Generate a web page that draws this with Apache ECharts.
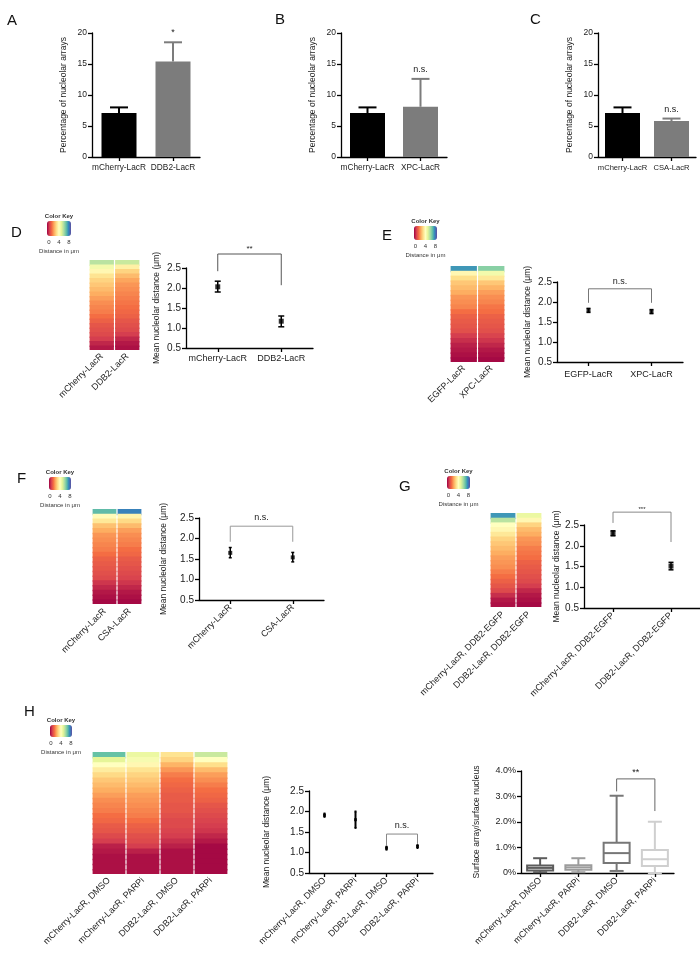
<!DOCTYPE html>
<html>
<head>
<meta charset="utf-8">
<script src="https://cdn.jsdelivr.net/npm/echarts@6/dist/echarts.min.js"></script>
<style>
  html, body { margin: 0; padding: 0; background: #fff; }
  #chart { width: 700px; height: 962px; }
</style>
</head>
<body>
<div id="chart"></div>
<script>
// ---- data ----
const barCatsA = ['mCherry-LacR', 'DDB2-LacR']
const barMeanA = [7.1, 15.4]
const barErrA = [8.0, 18.5]
const barSigA = ['', '*']

const barCatsB = ['mCherry-LacR', 'XPC-LacR']
const barMeanB = [7.1, 8.1]
const barErrB = [8.0, 12.6]
const barSigB = ['', 'n.s.']

const barCatsC = ['mCherry-LacR', 'CSA-LacR']
const barMeanC = [7.1, 5.8]
const barErrC = [8.0, 6.2]
const barSigC = ['', 'n.s.']

const barTicks = [0, 5, 10, 15, 20]
const distTicks = [0.5, 1.0, 1.5, 2.0, 2.5]
const keyTicks = [0, 4, 8]

// distance heatmaps: one list per column, top row first (µm)
const heatCatsD = ['mCherry-LacR', 'DDB2-LacR']
const heatD1 = [5.4, 4.4, 3.8, 3.3, 3.0, 2.8, 2.6, 2.4, 2.2, 2.0, 1.9, 1.8, 1.6, 1.4, 1.2, 1.1, 1.0, 0.8, 0.5, 0.3]
const heatD2 = [5.2, 3.6, 3.0, 2.6, 2.3, 2.1, 2.0, 1.9, 1.8, 1.7, 1.6, 1.5, 1.4, 1.2, 1.1, 1.0, 0.8, 0.5, 0.3, 0.2]

const heatCatsE = ['EGFP-LacR', 'XPC-LacR']
const heatE1 = [7.0, 3.8, 3.2, 2.8, 2.6, 2.4, 2.1, 2.0, 1.9, 1.6, 1.4, 1.3, 1.2, 1.1, 0.8, 0.6, 0.4, 0.3, 0.2, 0.1]
const heatE2 = [6.0, 4.4, 3.4, 2.8, 2.5, 2.2, 2.0, 1.9, 1.7, 1.6, 1.4, 1.3, 1.2, 1.1, 0.9, 0.7, 0.5, 0.3, 0.2, 0.1]

const heatCatsF = ['mCherry-LacR', 'CSA-LacR']
const heatF1 = [6.5, 3.9, 3.4, 2.7, 2.4, 2.1, 2.0, 1.9, 1.8, 1.6, 1.4, 1.3, 1.2, 1.1, 1.0, 0.7, 0.5, 0.3, 0.2, 0.1]
const heatF2 = [7.3, 3.7, 3.1, 2.6, 2.2, 2.0, 1.9, 1.8, 1.6, 1.5, 1.3, 1.2, 1.1, 1.0, 0.9, 0.7, 0.5, 0.3, 0.2, 0.1]

const heatCatsG = ['mCherry-LacR, DDB2-EGFP', 'DDB2-LacR, DDB2-EGFP']
const heatG1 = [7.0, 5.4, 4.0, 3.8, 3.4, 3.0, 2.8, 2.6, 2.4, 2.2, 2.1, 2.0, 1.8, 1.6, 1.4, 1.2, 1.0, 0.6, 0.3, 0.2]
const heatG2 = [4.6, 3.8, 3.0, 2.6, 2.4, 2.1, 2.0, 1.8, 1.7, 1.6, 1.4, 1.3, 1.2, 1.1, 1.0, 0.8, 0.5, 0.3, 0.2, 0.1]

const heatCatsH = ['mCherry-LacR, DMSO', 'mCherry-LacR, PARPi', 'DDB2-LacR, DMSO', 'DDB2-LacR, PARPi']
const heatH1 = [6.4, 4.8, 4.0, 3.5, 3.1, 2.8, 2.6, 2.4, 2.2, 2.0, 1.9, 1.8, 1.6, 1.5, 1.3, 1.2, 1.0, 0.8, 0.4, 0.3, 0.2, 0.2, 0.2, 0.2]
const heatH2 = [4.6, 4.3, 3.8, 3.3, 3.0, 2.8, 2.6, 2.4, 2.2, 2.1, 2.0, 1.9, 1.8, 1.6, 1.4, 1.3, 1.1, 1.0, 0.8, 0.4, 0.2, 0.2, 0.2, 0.2]
const heatH3 = [3.3, 3.0, 2.5, 2.1, 1.8, 1.6, 1.5, 1.4, 1.3, 1.3, 1.2, 1.2, 1.1, 1.0, 1.0, 0.9, 0.8, 0.6, 0.4, 0.2, 0.2, 0.2, 0.2, 0.2]
const heatH4 = [5.2, 4.0, 3.2, 2.6, 2.2, 2.0, 1.8, 1.6, 1.5, 1.4, 1.2, 1.1, 1.0, 0.9, 0.8, 0.7, 0.5, 0.3, 0.1, 0.1, 0.1, 0.1, 0.1, 0.1]

// mean nucleolar distance (mean, low, high)
const distMeanD = [2.03, 1.17]
const distLowD = [1.90, 1.03]
const distHighD = [2.17, 1.30]
const bracketD = [0, 1, 2.85, 2.42, 2.07]

const distMeanE = [1.79, 1.76]
const distLowE = [1.74, 1.71]
const distHighE = [1.84, 1.81]
const bracketE = [0, 1, 2.33, 1.98, 1.98]

const distMeanF = [1.65, 1.54]
const distLowF = [1.53, 1.43]
const distHighF = [1.78, 1.66]
const bracketF = [0, 1, 2.30, 1.92, 1.92]

const distMeanG = [2.30, 1.51]
const distLowG = [2.24, 1.42]
const distHighG = [2.36, 1.60]
const bracketG = [0, 1, 2.81, 2.55, 2.09]

const distMeanH = [1.91, 1.80, 1.11, 1.15]
const distLowH = [1.87, 1.60, 1.07, 1.11]
const distHighH = [1.95, 2.00, 1.14, 1.18]
const bracketH = [2, 3, 1.45, 1.16, 1.21]

// surface array / surface nucleus (%): min, Q1, median, Q3, max
const boxMin = [0.03, 0.03, 0.08, 0.0]
const boxQ1 = [0.10, 0.13, 0.39, 0.27]
const boxMed = [0.20, 0.22, 0.78, 0.54]
const boxQ3 = [0.29, 0.30, 1.19, 0.90]
const boxMax = [0.58, 0.58, 3.03, 2.01]
const boxTicks = [0, 1, 2, 3, 4]
const bracketBox = [2, 3, 3.69, 3.2, 2.43]

// ---- styles ----
const FONT = 'Liberation Sans, Arial, sans-serif'
const spectral = ['#9E0142', '#D53E4F', '#F46D43', '#FDAE61', '#FEE08B', '#FFFFBF', '#E6F598', '#ABDDA4', '#66C2A5', '#3288BD', '#5E4FA2']
const barColors = ['#000000', '#7c7c7c']
const boxColors = ['#5c5c5c', '#9c9c9c', '#777777', '#cfcfcf']

const grids = []
const xAxes = []
const yAxes = []
const series = []
const visualMaps = []
const titles = []

const addGrid = (g) => {
  grids.push({ left: g[0], top: g[1], width: g[2], height: g[3] })
  return grids.length - 1
}

const axisLine = { show: true, lineStyle: { color: '#000', width: 1.3 } }
const axisTick = { show: true, length: 4, lineStyle: { color: '#000', width: 1.3 } }

const valueAxis = (gi, ticks, name, nameGap, fmt, fontSize) => ({
  gridIndex: gi, type: 'value', min: ticks[0], max: ticks[ticks.length - 1],
  interval: ticks[1] - ticks[0],
  name, nameLocation: 'middle', nameGap,
  nameTextStyle: { fontSize: 8.5, color: '#222', fontFamily: FONT },
  axisLine, axisTick, splitLine: { show: false },
  axisLabel: { fontSize, color: '#222', fontFamily: FONT, margin: 5, formatter: fmt }
})

const catAxis = (gi, cats, rotate, margin, fontSize) => ({
  gridIndex: gi, type: 'category', data: cats,
  axisLine, axisTick: Object.assign({ alignWithLabel: true }, axisTick),
  axisLabel: { fontSize, color: '#222', fontFamily: FONT, margin, rotate, interval: 0 }
})

// error bar: [x, low, high]; cap drawn at high (and low when twoSided)
const errRender = (capW, colors, lw, twoSided) => (params, api) => {
  const pL = api.coord([api.value(0), api.value(1)])
  const pH = api.coord([api.value(0), api.value(2)])
  const style = { stroke: colors[params.dataIndex % colors.length], lineWidth: lw }
  const kids = [
    { type: 'line', shape: { x1: pL[0], y1: pL[1], x2: pH[0], y2: pH[1] }, style },
    { type: 'line', shape: { x1: pH[0] - capW / 2, y1: pH[1], x2: pH[0] + capW / 2, y2: pH[1] }, style }
  ]
  if (twoSided) kids.push({ type: 'line', shape: { x1: pL[0] - capW / 2, y1: pL[1], x2: pL[0] + capW / 2, y2: pL[1] }, style })
  return { type: 'group', children: kids }
}

// significance bracket: [x1, x2, top, leftBottom, rightBottom]
const bracketSeries = (xi, yi, b, label, color, gap, fontSize) => ({
  type: 'custom', xAxisIndex: xi, yAxisIndex: yi, clip: false, silent: true,
  data: [b],
  renderItem: (params, api) => {
    const t1 = api.coord([api.value(0), api.value(2)])
    const t2 = api.coord([api.value(1), api.value(2)])
    const b1 = api.coord([api.value(0), api.value(3)])
    const b2 = api.coord([api.value(1), api.value(4)])
    return {
      type: 'group', children: [
        { type: 'polyline', shape: { points: [b1, t1, t2, b2] }, style: { stroke: color, lineWidth: 1, fill: null } },
        { type: 'text', x: (t1[0] + t2[0]) / 2, y: t1[1] - gap,
          style: { text: label, fill: '#222', font: fontSize + 'px ' + FONT, textAlign: 'center', textVerticalAlign: 'bottom' } }
      ]
    }
  }
})

const barPanel = (box, cats, means, errs, sigs, yGap, labelFont) => {
  const gi = addGrid(box)
  xAxes.push(catAxis(gi, cats, 0, 7, labelFont))
  yAxes.push(valueAxis(gi, barTicks, 'Percentage of nucleolar arrays', yGap, null, 8.5))
  const xi = xAxes.length - 1
  const yi = yAxes.length - 1
  series.push({
    type: 'bar', xAxisIndex: xi, yAxisIndex: yi, barWidth: 35, silent: true,
    data: means.map((v, i) => ({ value: v, itemStyle: { color: barColors[i] } }))
  })
  series.push({
    type: 'custom', xAxisIndex: xi, yAxisIndex: yi, silent: true, z: 3,
    data: means.map((v, i) => [i, v, errs[i]]),
    renderItem: errRender(18, barColors, 2, false)
  })
  series.push({
    type: 'custom', xAxisIndex: xi, yAxisIndex: yi, silent: true, clip: false,
    data: errs.map((v, i) => [i, v]),
    renderItem: (params, api) => {
      const p = api.coord([api.value(0), api.value(1)])
      return { type: 'text', x: p[0], y: p[1] - 5,
        style: { text: sigs[params.dataIndex], fill: '#222', font: '9px ' + FONT, textAlign: 'center', textVerticalAlign: 'bottom' } }
    }
  })
}

// one heatmap cell; rows overlap a little so no seams show, columns keep a thin gap
const heatRender = (params, api) => {
  const c = api.coord([api.value(0), api.value(1)])
  const s = api.size([1, 1])
  const last = api.value(1) === params.dataInsideLength / params.context.cols - 1
  return {
    type: 'rect',
    shape: { x: c[0] - s[0] / 2 + 0.6, y: c[1] - s[1] / 2, width: s[0] - 1.2, height: s[1] + (last ? 0 : 1.5) },
    style: { fill: api.visual('color') }
  }
}

const smallText = (text, left, top, bold) => titles.push({
  text, left, top, textAlign: 'center', padding: 0,
  textStyle: { fontSize: 6, fontWeight: bold ? 'bold' : 'normal', color: '#333', fontFamily: FONT }
})

const heatPanel = (box, cats, cols, key, labelMargin) => {
  const gi = addGrid(box)
  const rows = cols[0].map((v, i) => String(i))
  xAxes.push({
    gridIndex: gi, type: 'category', data: cats,
    axisLine: { show: false }, axisTick: { show: false },
    axisLabel: { fontSize: 9, color: '#222', fontFamily: FONT, rotate: 45, margin: labelMargin, interval: 0 }
  })
  yAxes.push({ gridIndex: gi, type: 'category', data: rows, inverse: true, show: false })
  // draw rows top to bottom so each row's overlap is covered by the next one
  const data = []
  cols[0].forEach((v, r) => cols.forEach((col, c) => data.push([c, r, col[r]])))
  const nRows = rows.length
  series.push({
    type: 'custom', xAxisIndex: xAxes.length - 1, yAxisIndex: yAxes.length - 1, silent: true,
    data,
    renderItem: (params, api) => {
      const c = api.coord([api.value(0), api.value(1)])
      const s = api.size([1, 1])
      const last = api.value(1) === nRows - 1
      return {
        type: 'rect',
        shape: { x: c[0] - s[0] / 2 + 0.6, y: c[1] - s[1] / 2, width: s[0] - 1.2, height: s[1] + (last ? 0 : 1.5) },
        style: { fill: api.visual('color') }
      }
    }
  })
  // color key = this heatmap's visual map
  visualMaps.push({
    type: 'continuous', seriesIndex: series.length - 1, dimension: 2, min: 0, max: 8,
    orient: 'horizontal', left: key[0], top: key[1], itemWidth: key[3], itemHeight: key[2],
    calculable: false, hoverLink: false, padding: 0, text: null, showLabel: false,
    inRange: { color: spectral }
  })
  const cx = key[0] + key[2] / 2
  smallText('Color Key', cx, key[1] - 8, true)
  smallText(keyTicks.join('    '), cx, key[1] + key[3] + 3, false)
  smallText('Distance in μm', cx, key[1] + key[3] + 12, false)
}

const distPanel = (box, cats, means, lows, highs, br, brLabel, o) => {
  const gi = addGrid(box)
  xAxes.push(catAxis(gi, cats, o.rotate, o.margin, 9))
  yAxes.push(valueAxis(gi, distTicks, 'Mean nucleolar distance (μm)', o.yGap, (v) => v.toFixed(1), 10))
  const xi = xAxes.length - 1
  const yi = yAxes.length - 1
  series.push({
    type: 'custom', xAxisIndex: xi, yAxisIndex: yi, silent: true,
    data: means.map((v, i) => [i, lows[i], highs[i]]),
    renderItem: errRender(o.cap, ['#000'], o.lw, true)
  })
  series.push({
    type: 'scatter', xAxisIndex: xi, yAxisIndex: yi, silent: true, symbol: 'rect',
    symbolSize: o.sym, itemStyle: { color: '#000' },
    data: means.map((v, i) => [i, v])
  })
  series.push(bracketSeries(xi, yi, br, brLabel, o.brColor, o.brGap, o.brFont))
}

// ---- panels A-C ----
barPanel([92, 33, 108, 124], barCatsA, barMeanA, barErrA, barSigA, 24, 8.3)
barPanel([341, 33, 106, 124], barCatsB, barMeanB, barErrB, barSigB, 24, 8.3)
barPanel([598, 33, 98, 124], barCatsC, barMeanC, barErrC, barSigC, 24, 7.6)

// ---- D-H heatmaps ----
heatPanel([89, 260, 51, 90], heatCatsD, [heatD1, heatD2], [47, 221, 24, 15], 5)
heatPanel([450, 266, 55, 96], heatCatsE, [heatE1, heatE2], [414, 226, 23, 14], 5)
heatPanel([92, 509, 50, 95], heatCatsF, [heatF1, heatF2], [49, 477, 22, 13], 6)
heatPanel([490, 513, 52, 94], heatCatsG, [heatG1, heatG2], [447, 476, 23, 13], 6)
heatPanel([92, 752, 136, 122], heatCatsH, [heatH1, heatH2, heatH3, heatH4], [50, 725, 22, 12], 5)

// ---- D-H distance plots ----
distPanel([186, 268, 127, 80], heatCatsD, distMeanD, distLowD, distHighD, bracketD, '**',
  { rotate: 0, margin: 6, yGap: 25, cap: 6, lw: 1.5, sym: 5, brColor: '#555', brGap: 1, brFont: 8 })
distPanel([557, 282, 126, 80], heatCatsE, distMeanE, distLowE, distHighE, bracketE, 'n.s.',
  { rotate: 0, margin: 8, yGap: 25, cap: 4, lw: 1.5, sym: 4, brColor: '#777', brGap: 3, brFont: 9 })
distPanel([199, 518, 125, 82], heatCatsF, distMeanF, distLowF, distHighF, bracketF, 'n.s.',
  { rotate: 45, margin: 6, yGap: 31, cap: 3, lw: 1.5, sym: 4, brColor: '#999', brGap: 4, brFont: 9 })
distPanel([584, 525, 128, 83], heatCatsG, distMeanG, distLowG, distHighG, bracketG, '***',
  { rotate: 45, margin: 6, yGap: 23, cap: 5, lw: 1.5, sym: 5, brColor: '#888', brGap: 0, brFont: 6 })
distPanel([309, 791, 124, 82], heatCatsH, distMeanH, distLowH, distHighH, bracketH, 'n.s.',
  { rotate: 45, margin: 6, yGap: 38, cap: 2, lw: 2, sym: 3, brColor: '#888', brGap: 4, brFont: 9 })

// ---- H box plot ----
{
  const gi = addGrid([521, 771, 153, 102])
  xAxes.push(catAxis(gi, heatCatsH, 45, 6, 9))
  yAxes.push(valueAxis(gi, boxTicks, 'Surface array/surface nucleus', 40,
    (v) => (v === 0 ? '0%' : v.toFixed(1) + '%'), 9))
  const xi = xAxes.length - 1
  const yi = yAxes.length - 1
  series.push({
    type: 'custom', xAxisIndex: xi, yAxisIndex: yi, silent: true,
    data: boxMin.map((v, i) => [i, v, boxQ1[i], boxMed[i], boxQ3[i], boxMax[i]]),
    renderItem: (params, api) => {
      const i = api.value(0)
      const p = [1, 2, 3, 4, 5].map((k) => api.coord([i, api.value(k)]))
      const x = p[0][0]
      const w = 26
      const cw = 14
      const style = { stroke: boxColors[params.dataIndex], lineWidth: 2, fill: null }
      return {
        type: 'group', children: [
          { type: 'line', shape: { x1: x, y1: p[3][1], x2: x, y2: p[4][1] }, style },
          { type: 'line', shape: { x1: x, y1: p[1][1], x2: x, y2: p[0][1] }, style },
          { type: 'line', shape: { x1: x - cw / 2, y1: p[4][1], x2: x + cw / 2, y2: p[4][1] }, style },
          { type: 'line', shape: { x1: x - cw / 2, y1: p[0][1], x2: x + cw / 2, y2: p[0][1] }, style },
          { type: 'rect', shape: { x: x - w / 2, y: p[3][1], width: w, height: p[1][1] - p[3][1] },
            style: { stroke: boxColors[params.dataIndex], lineWidth: 2, fill: '#fff' } },
          { type: 'line', shape: { x1: x - w / 2, y1: p[2][1], x2: x + w / 2, y2: p[2][1] }, style }
        ]
      }
    }
  })
  series.push(bracketSeries(xi, yi, bracketBox, '**', '#666', 2, 9))
}

// ---- panel letters ----
const letters = [['A', 7, 13], ['B', 275, 12], ['C', 530, 12], ['D', 11, 225], ['E', 382, 228],
  ['F', 17, 471], ['G', 399, 479], ['H', 24, 704]]
letters.forEach((l) => titles.push({
  text: l[0], left: l[1], top: l[2], padding: 0,
  textStyle: { fontSize: 15, fontWeight: 'normal', color: '#111', fontFamily: FONT }
}))

const chart = echarts.init(document.getElementById('chart'), null, { renderer: 'canvas' })
chart.setOption({
  backgroundColor: '#fff',
  animation: false,
  textStyle: { fontFamily: FONT },
  title: titles,
  grid: grids,
  xAxis: xAxes,
  yAxis: yAxes,
  visualMap: visualMaps,
  series
})
</script>
</body>
</html>
